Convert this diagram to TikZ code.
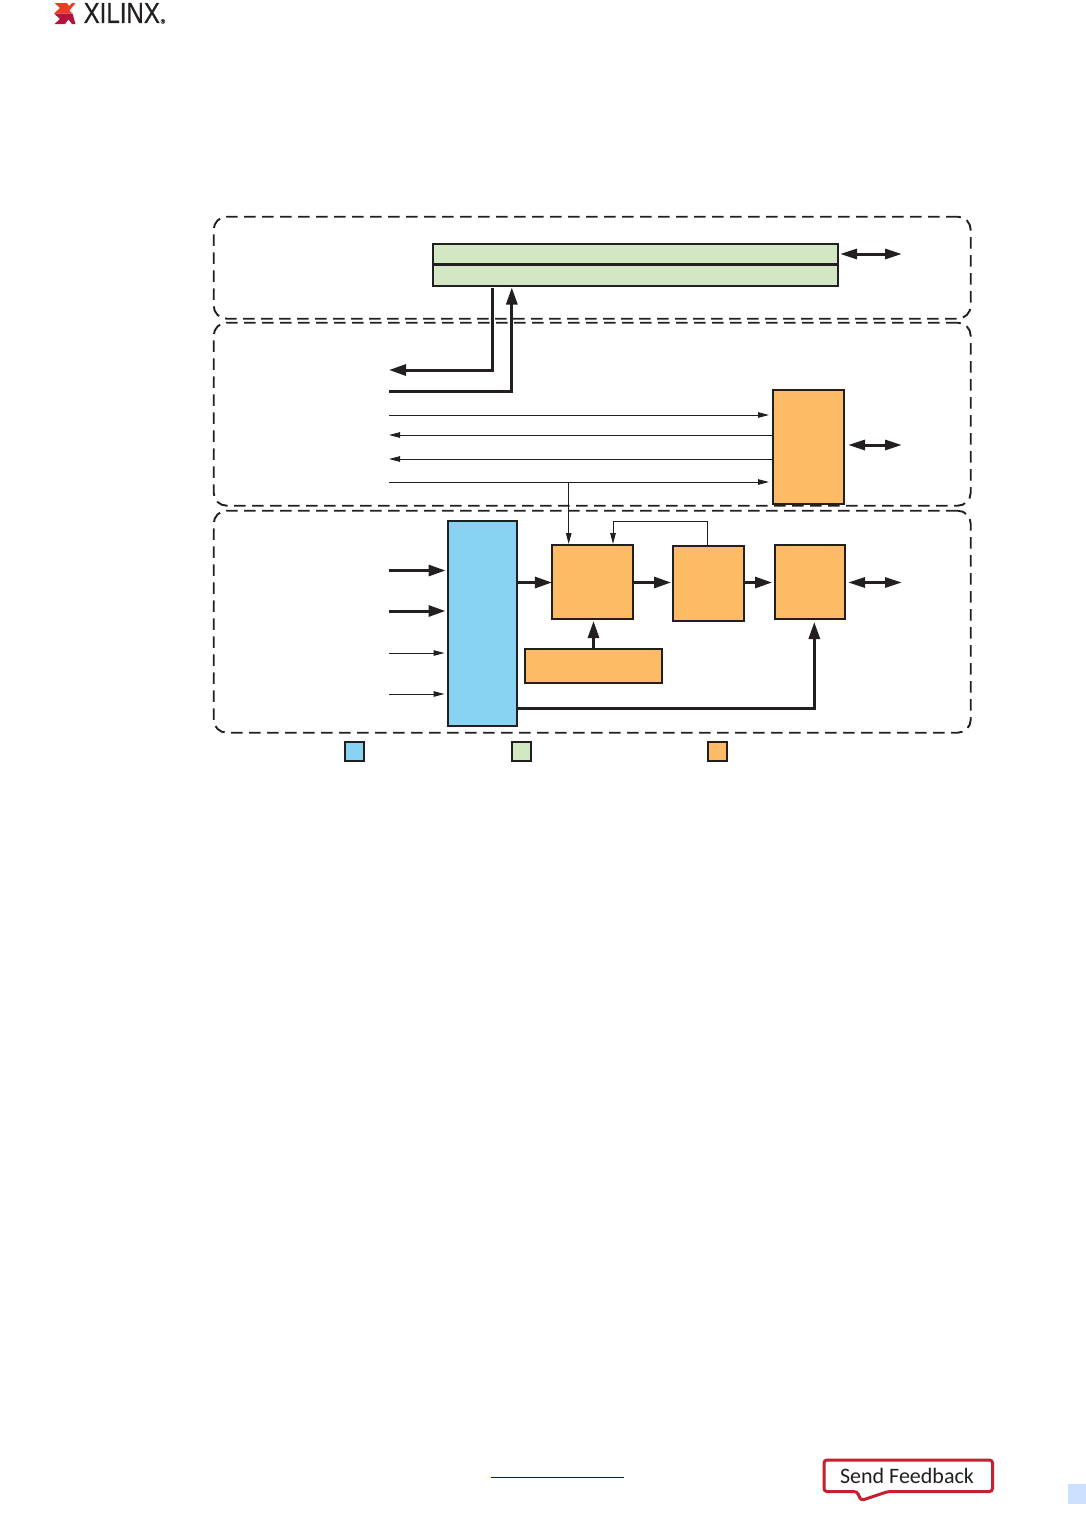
\documentclass[tikz,border=0pt]{standalone}
\usepackage{fontspec}
\setmainfont{Carlito}
\newfontfamily\logofont[FakeBold=0.5]{Liberation Sans}
\usetikzlibrary{arrows.meta,calc}
\definecolor{ink}{HTML}{231F20}
\definecolor{boxorange}{HTML}{FDBB65}
\definecolor{boxgreen}{HTML}{D2E8C5}
\definecolor{boxblue}{HTML}{88D3F1}
\definecolor{fbred}{HTML}{C4202F}
\definecolor{logoorange}{HTML}{EE3B24}
\definecolor{logocrimson}{HTML}{B5123E}
\definecolor{pagemark}{HTML}{CCE0FF}
\tikzset{
  x=1pt,y=-1pt,
  region/.style={draw=ink,line width=1.9pt,dash pattern=on 11.5pt off 6.5pt,rounded corners=13pt,inner sep=0pt,outer sep=0pt,anchor=north west},
  block/.style={draw=ink,line width=1.9pt,inner sep=0pt,outer sep=0pt,anchor=north west},
  orangeblock/.style={block,fill=boxorange},
  greenblock/.style={block,fill=boxgreen},
  blueblock/.style={block,fill=boxblue},
  heavy/.style={draw=ink,line width=3pt,-{Triangle[length=17pt,width=11pt]}},
  heavyboth/.style={draw=ink,line width=3pt,{Triangle[length=17pt,width=10pt]}-{Triangle[length=17pt,width=10pt]}},
  light/.style={draw=ink,line width=1pt,-{Triangle[length=11pt,width=5.5pt]}},
}
\newcommand{\blockat}[6]{\node[#1,minimum width=#4pt-#2pt-1.9pt,minimum height=#5pt-#3pt-1.9pt] (#6) at (#2+.45,#3+.45) {};}
\begin{document}
\begin{tikzpicture}
\useasboundingbox (0,0) rectangle (1086,1516);
\fill[white] (0,0) rectangle (1086,1516);

% dashed regions
\node[region,minimum width=757pt,minimum height=102pt] (regiona) at (213.7,216.7) {};
\node[region,minimum width=757pt,minimum height=183pt] (regionb) at (213.7,322.7) {};
\node[region,minimum width=757pt,minimum height=222pt] (regionc) at (213.7,510.7) {};

% blocks
\blockat{greenblock}{432.5}{243.5}{839.3}{265.3}{greentop}
\blockat{greenblock}{432.5}{264.7}{839.3}{287.2}{greenbottom}
\blockat{orangeblock}{772.5}{389.5}{845}{505}{phy}
\blockat{blueblock}{447.5}{520.5}{518}{727.2}{bluebox}
\blockat{orangeblock}{551.5}{544.5}{634}{620}{oa}
\blockat{orangeblock}{672.5}{545.5}{745}{622}{ob}
\blockat{orangeblock}{774.5}{544.5}{846}{620}{oc}
\blockat{orangeblock}{524.5}{648.5}{663}{684}{od}
\blockat{blueblock}{344.5}{741.5}{365}{762}{legenda}
\blockat{greenblock}{511.5}{741.5}{532}{762}{legendb}
\blockat{orangeblock}{707.5}{741.5}{728}{762}{legendc}

% free ends
\coordinate (ga) at (902,254);
\coordinate (gb) at (840,254);
\coordinate (pa) at (902,445);
\coordinate (pb) at (848,445);
\coordinate (ca) at (902,582.5);
\coordinate (cb) at (848,582.5);
\coordinate (la) at (389,370);
\coordinate (lb) at (389,391);
\coordinate (lc) at (389,415);
\coordinate (ld) at (389,435);
\coordinate (le) at (389,459);
\coordinate (lf) at (389,482);
\coordinate (in1) at (389,570.5);
\coordinate (in2) at (389,611);
\coordinate (in3) at (389,653);
\coordinate (in4) at (389,694);
\coordinate (dn) at (492.8,288);
\coordinate (up) at (511.8,287.5);
\coordinate (branch) at (568.7,482);
\coordinate (loopin) at (613,544);

% connectors
\draw[heavyboth] (gb) -- (ga);
\draw[heavyboth] (pb) -- (pa);
\draw[heavyboth] (cb) -- (ca);
\draw[heavy] (dn) |- (la);
\draw[heavy] (lb) -| (up);
\draw[light] (lc) -- (769,415);
\draw[light] (phy.west |- ld) -- (ld);
\draw[light] (phy.west |- le) -- (le);
\draw[light] (lf) -- (769,482);
\draw[light] (branch) -- (568.7,544);
\draw[light] (707.3,546) -- (707.3,521) -| (loopin);
\draw[heavy] (in1) -- (445.5,570.5);
\draw[heavy] (in2) -- (445.5,611);
\draw[light] (in3) -- (444.5,653);
\draw[light] (in4) -- (444.5,694);
\draw[heavy] (bluebox.east |- ca) -- (oa.west |- ca);
\draw[heavy] (oa.east |- ca) -- (671,582.5);
\draw[heavy] (ob.east |- ca) -- (772,582.5);
\draw[heavy] (593.5,648) -- (593.5,621);
\draw[heavy] (bluebox.east |- 0,708) -| (814.3,622);

% logo
\fill[logoorange] (54.5,3) -- (67,3) -- (69,6) -- (72,3) -- (75.5,3) -- (69.5,10.5) -- (72.5,13.5) -- (54,13.5) -- (60,8) -- cycle;
\fill[logocrimson] (54,13.5) -- (72.5,13.5) -- (75.5,24) -- (72,24) -- (68.5,19.5) -- (65,24) -- (54.5,24) -- (60,19) -- cycle;
\node[anchor=west,inner sep=0pt,font=\logofont\fontsize{29}{29}\selectfont,text=ink,xscale=.83,transform shape] (logotext) at (83.5,13) {XILINX};
\node[anchor=base west,inner sep=0pt,font=\logofont\fontsize{6}{6}\selectfont,text=ink] (logomark) at (160.5,23.5) {\textregistered};

% footer
\draw[blue!85!black,line width=1pt] (491,1477) -- (624,1477);
\fill[pagemark] (1068,1484) rectangle (1086,1504);
\draw[fbred,line width=3pt,rounded corners=3pt,fill=white] (824,1460) -- (992.5,1460) -- (992.5,1491.5) -- (888,1491.5) -- (861,1500.5) -- (857,1491.5) -- (824,1491.5) -- cycle;
\node[anchor=center,inner sep=0pt,font=\fontsize{22}{22}\selectfont,text=ink] (feedback) at (907,1475.5) {Send Feedback};
\end{tikzpicture}
\end{document}
